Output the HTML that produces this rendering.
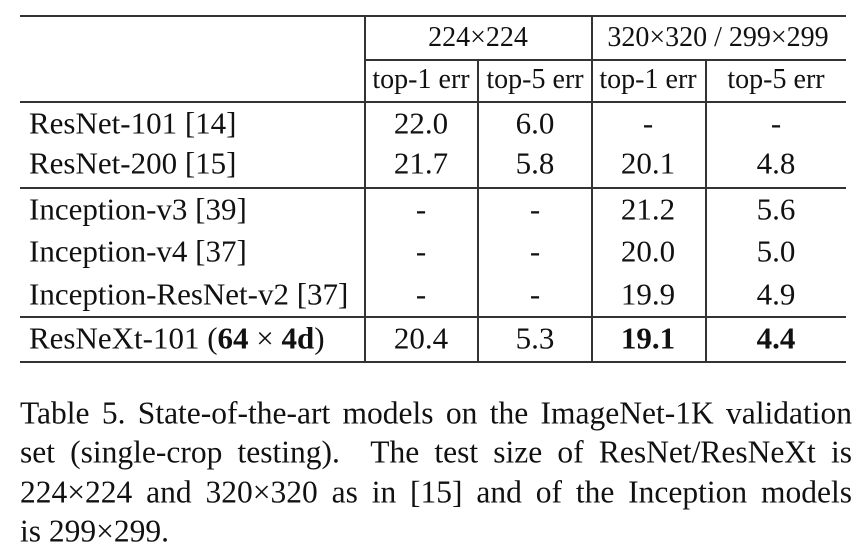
<!DOCTYPE html>
<html><head><meta charset="utf-8"><style>
body{margin:0;width:862px;height:550px;background:#fff;position:relative;overflow:hidden;font-family:"Liberation Serif",serif;color:#111}
.h{position:absolute;height:2px;background:#333}
.v{position:absolute;width:2px;background:#333}
.t{position:absolute;line-height:1;white-space:nowrap;transform:translate(-50%,-50%)}
.l{position:absolute;line-height:1;white-space:nowrap;transform:translateY(-50%);font-size:31px}
.cl{position:absolute;left:20px;width:832px;font-size:31.5px;line-height:1;white-space:nowrap;text-align:justify;text-align-last:justify;transform:translateY(-50%)}
</style></head><body>
<div class="h" style="left:20px;top:15px;width:826px"></div>
<div class="h" style="left:365px;top:59px;width:481px"></div>
<div class="h" style="left:20px;top:101px;width:826px"></div>
<div class="h" style="left:20px;top:187px;width:826px"></div>
<div class="h" style="left:20px;top:316px;width:826px"></div>
<div class="h" style="left:20px;top:361px;width:826px"></div>
<div class="v" style="left:364px;top:15px;height:348px"></div>
<div class="v" style="left:477px;top:59px;height:304px"></div>
<div class="v" style="left:591px;top:15px;height:348px"></div>
<div class="v" style="left:705px;top:59px;height:304px"></div>

<div class="t" style="left:478px;top:38px;font-size:28px">224×224</div>
<div class="t" style="left:718px;top:38px;font-size:28px">320×320 / 299×299</div>
<div class="t" style="left:421px;top:80px;font-size:28px">top-1 err</div>
<div class="t" style="left:535px;top:80px;font-size:28px">top-5 err</div>
<div class="t" style="left:648px;top:80px;font-size:28px">top-1 err</div>
<div class="t" style="left:776px;top:80px;font-size:28px">top-5 err</div>

<div class="l" style="left:29px;top:123px">ResNet-101 [14]</div>
<div class="l" style="left:29px;top:163px">ResNet-200 [15]</div>
<div class="l" style="left:29px;top:209px">Inception-v3 [39]</div>
<div class="l" style="left:29px;top:251px">Inception-v4 [37]</div>
<div class="l" style="left:29px;top:294px">Inception-ResNet-v2 [37]</div>
<div class="l" style="left:29px;top:338px">ResNeXt-101 (<b>64</b> × <b>4d</b>)</div>

<div id="cells"></div>

<div>
<div class="cl" style="top:413px">Table 5. State-of-the-art models on the ImageNet-1K validation</div>
<div class="cl" style="top:452px">set (single-crop testing). &nbsp;The test size of ResNet/ResNeXt is</div>
<div class="cl" style="top:492px">224×224 and 320×320 as in [15] and of the Inception models</div>
<div class="cl" style="top:531px;text-align-last:left">is 299×299.</div>
</div>
<script>
const rowY=[123,163,209,251,294,338];
const colX=[421,535,648,776];
const values=[["22.0","6.0","-","-"],["21.7","5.8","20.1","4.8"],["-","-","21.2","5.6"],["-","-","20.0","5.0"],["-","-","19.9","4.9"],["20.4","5.3","19.1","4.4"]];
const boldCells=[[5,2],[5,3]];
const host=document.getElementById('cells');
values.forEach((r,i)=>r.forEach((v,j)=>{
  const d=document.createElement('div');
  d.className='t';
  d.style.left=colX[j]+'px';d.style.top=rowY[i]+'px';d.style.fontSize='31px';
  if(boldCells.some(b=>b[0]===i&&b[1]===j))d.style.fontWeight='bold';
  d.textContent=v;
  
  
  host.appendChild(d);
}));
</script>
</body></html>
